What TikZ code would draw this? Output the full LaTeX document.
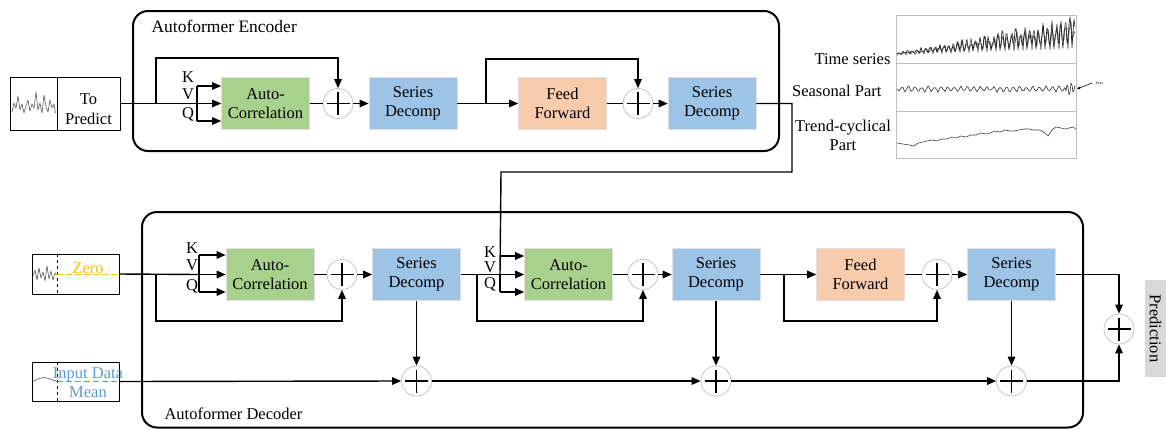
\documentclass[tikz,border=0pt]{standalone}
\usepackage{fontspec}
\setmainfont{Liberation Serif}
\usetikzlibrary{arrows.meta,positioning,calc}

\definecolor{acgreen}{HTML}{A9D18E}
\definecolor{sdblue}{HTML}{9DC3E6}
\definecolor{fforange}{HTML}{F8CBAD}
\definecolor{zeroyel}{HTML}{FFC000}
\definecolor{meanblue}{HTML}{5B9BD5}
\definecolor{predgray}{HTML}{D9D9D9}
\definecolor{framegray}{HTML}{BFBFBF}

\tikzset{
  txt/.style={font=\fontsize{16.5}{19.5}\selectfont},
  blk/.style={txt, minimum width=88pt, minimum height=52pt, inner sep=0pt,
              align=center, draw=black!12, line width=0.6pt},
  acblk/.style={blk, fill=acgreen},
  sdblk/.style={blk, fill=sdblue},
  ffblk/.style={blk, fill=fforange},
  plusnode/.style={circle, draw=framegray, line width=0.7pt, minimum size=30pt,
    inner sep=0pt,
    path picture={
      \draw[black, line width=1.5pt]
        ([xshift=-11.5pt]path picture bounding box.center) --
        ([xshift=11.5pt]path picture bounding box.center);
      \draw[black, line width=1.5pt]
        ([yshift=-11.5pt]path picture bounding box.center) --
        ([yshift=11.5pt]path picture bounding box.center);}},
  conn/.style={line width=1.4pt},
  arr/.style={conn, -{Triangle[length=9pt,width=7.5pt]}},
  container/.style={draw, line width=2pt, rounded corners=15pt},
  inbox/.style={draw, line width=1pt, inner sep=0pt},
  wave/.style={black!65, line width=0.6pt, line join=round},
}

\begin{document}
\begin{tikzpicture}[x=1pt, y=-1pt]
\useasboundingbox (0,0) rectangle (1166,429);

% ---------------- containers ----------------
\draw[container] (133,11) rectangle (779,151);
\draw[container] (142,212) rectangle (1083,427.5);
\node[font=\fontsize{17.5}{20}\selectfont, anchor=west] (enclab) at (148,26) {Autoformer Encoder};
\node[txt, anchor=west] (declab) at (161,414) {Autoformer Decoder};

% ---------------- encoder input ----------------
\node[inbox, minimum width=110pt, minimum height=53pt] (tp) at (65,103.5) {};
\draw[line width=1pt] (57,77) -- (57,130);
\node[txt, align=center] (tptext) at (88.5,109) {To\\Predict};
\draw[wave] plot coordinates {(12,112) (14,103) (16,108) (18,96) (20,110) (22,104)
  (24,113) (26,106) (28,100) (30,111) (32,104) (34,108) (36,92) (38,110) (40,103)
  (42,113) (44,95) (46,107) (48,112) (50,100) (52,108) (54,104) (55.5,113)};

% ---------------- encoder blocks ----------------
\node[acblk] (eAC)  at (265.5,103.5) {Auto-\\Correlation};
\node[plusnode] (eP1) at (338,103.5) {};
\node[sdblk] (eSD1) at (413,103.5) {Series\\Decomp};
\node[ffblk] (eFF)  at (562.5,103.5) {Feed\\Forward};
\node[plusnode] (eP2) at (638,103.5) {};
\node[sdblk] (eSD2) at (712,103.5) {Series\\Decomp};

\node[txt] (eKl) at (188,77) {K};
\node[txt] (eVl) at (188,94) {V};
\node[txt] (eQl) at (188,114) {Q};

\coordinate (eK) at (197,86);
\coordinate (eV) at (197,103.5);
\coordinate (eQ) at (197,121);
\coordinate (eRes1) at (156,103.5);
\coordinate (eTop1) at (338,58);
\coordinate (eRes2) at (486,103.5);
\coordinate (eTop2) at (638,59);

\draw[conn] (tp.east) -- (eV);
\draw[conn] (eK) -- (eQ);
\draw[arr] (eK) -- (eK -| eAC.west);
\draw[arr] (eV) -- (eAC.west);
\draw[arr] (eQ) -- (eQ -| eAC.west);
\draw[arr] (eRes1) |- (eTop1) -- (eP1.north);
\draw[conn] (eAC.east) -- (eP1.west);
\draw[arr] (eP1.east) -- (eSD1.west);
\draw[arr] (eSD1.east) -- (eFF.west);
\draw[arr] (eRes2) |- (eTop2) -- (eP2.north);
\draw[conn] (eFF.east) -- (eP2.west);
\draw[arr] (eP2.east) -- (eSD2.west);

% ---------------- decoder inputs ----------------
\node[inbox, minimum width=87pt, minimum height=40pt] (zero) at (75.5,274) {};
\draw[line width=1pt, dashed] (57,254) -- (57,294);
\draw[zeroyel, line width=1pt, dash pattern=on 6pt off 3pt] (57,274) -- (119,274);
\node[txt, text=zeroyel] (zerot) at (88,268) {Zero};
\draw[wave] plot coordinates {(33,276) (35,270) (37,280) (39,268) (41,278) (43,272)
  (45,281) (47,266) (49,279) (51,271) (53,280) (55,273) (57,275)};

\node[inbox, minimum width=87pt, minimum height=39pt] (mean) at (75.5,381.5) {};
\draw[line width=1pt, dashed] (57,362) -- (57,401);
\draw[meanblue, line width=1pt, dash pattern=on 6pt off 3pt] (57,381) -- (119,381);
\node[txt, text=meanblue, align=center] (meant) at (88,382.5) {Input Data\\Mean};
\draw[wave] plot[smooth] coordinates {(33,381.5) (38,379) (44,377.5) (50,379) (57,381.5)};

% ---------------- decoder blocks ----------------
\node[acblk] (dAC1) at (270,274.5) {Auto-\\Correlation};
\node[plusnode] (dP1) at (342,274.5) {};
\node[sdblk] (dSD1) at (416.5,274.5) {Series\\Decomp};
\node[acblk] (dAC2) at (568.5,274.5) {Auto-\\Correlation};
\node[plusnode] (dP2) at (643,274.5) {};
\node[sdblk] (dSD2) at (716,274.5) {Series\\Decomp};
\node[ffblk] (dFF)  at (860.5,274.5) {Feed\\Forward};
\node[plusnode] (dP3) at (937,274.5) {};
\node[sdblk] (dSD3) at (1011.5,274.5) {Series\\Decomp};

\node[plusnode] (bP1) at (416.5,381) {};
\node[plusnode] (bP2) at (716,381) {};
\node[plusnode] (bP3) at (1011.5,381) {};
\node[plusnode] (fin) at (1119,329) {};

\node[txt] (d1Kl) at (192,248) {K};
\node[txt] (d1Vl) at (192,265) {V};
\node[txt] (d1Ql) at (192,286) {Q};
\node[txt] (d2Kl) at (490,252) {K};
\node[txt] (d2Vl) at (490,267) {V};
\node[txt] (d2Ql) at (490,284) {Q};

\coordinate (d1K) at (199,255);
\coordinate (d1V) at (199,274.5);
\coordinate (d1Q) at (199,292);
\coordinate (d1Res) at (156,274.5);
\coordinate (d1Bot) at (342,321);
\coordinate (d2K) at (500,256);
\coordinate (d2V) at (500,274.5);
\coordinate (d2Q) at (500,292);
\coordinate (d2Res) at (477,274.5);
\coordinate (d2Bot) at (643,321);
\coordinate (d3Res) at (784,274.5);
\coordinate (d3Bot) at (937,321);
\coordinate (encOut) at (792,103.5);
\coordinate (encDrop) at (501,172);
\coordinate (outTop) at (1119,274.5);
\coordinate (outBot) at (1119,381);

% first decoder layer
\draw[conn] (zero.east) -- (d1V);
\draw[conn] (d1K) -- (d1Q);
\draw[arr] (d1K) -- (d1K -| dAC1.west);
\draw[arr] (d1V) -- (dAC1.west);
\draw[arr] (d1Q) -- (d1Q -| dAC1.west);
\draw[arr] (d1Res) |- (d1Bot) -- (dP1.south);
\draw[conn] (dAC1.east) -- (dP1.west);
\draw[arr] (dP1.east) -- (dSD1.west);

% encoder output into the cross correlation
\draw[conn] (eSD2.east) -- (encOut) |- (encDrop) -- (d2V);
\draw[arr] (d2K) -- (d2K -| dAC2.west);
\draw[arr] (d2V) -- (dAC2.west);

% second decoder layer
\draw[conn] (dSD1.east) -- (d2V) -- (d2Q);
\draw[arr] (d2Q) -- (d2Q -| dAC2.west);
\draw[arr] (d2Res) |- (d2Bot) -- (dP2.south);
\draw[conn] (dAC2.east) -- (dP2.west);
\draw[arr] (dP2.east) -- (dSD2.west);

% feed forward
\draw[arr] (dSD2.east) -- (dFF.west);
\draw[arr] (d3Res) |- (d3Bot) -- (dP3.south);
\draw[conn] (dFF.east) -- (dP3.west);
\draw[arr] (dP3.east) -- (dSD3.west);

% trend path
\draw[arr] (dSD1.south) -- (bP1.north);
\draw[arr] (dSD2.south) -- (bP2.north);
\draw[arr] (dSD3.south) -- (bP3.north);
\draw[arr] (mean.east) -- (bP1.west);
\draw[arr] (bP1.east) -- (bP2.west);
\draw[arr] (bP2.east) -- (bP3.west);

% final sum
\draw[arr] (dSD3.east) -- (outTop) -- (fin.north);
\draw[arr] (bP3.east) -- (outBot) -- (fin.south);

\node[txt, fill=predgray, rotate=-90, minimum width=97pt, minimum height=21pt,
      inner sep=0pt] (pred) at (1155.5,328.5) {Prediction};

% ---------------- decomposition panel ----------------
\draw[framegray, line width=0.8pt] (896,15) rectangle (1076,158);
\draw[framegray, line width=0.8pt] (896,63) -- (1076,63);
\draw[framegray, line width=0.8pt] (896,111) -- (1076,111);
\node[txt, anchor=east] (tsl) at (894,59) {Time series};
\node[txt, anchor=east] (spl) at (885,91) {Seasonal Part};
\node[txt, align=center] (tcl) at (843,135.5) {Trend-cyclical\\Part};

\pgfmathsetseed{11}
\draw[wave, black!60, line width=0.8pt] plot[domain=0:178, samples=179]
  (897+\x, {55-0.035*\x-(1.5+0.19*\x)*(0.45+0.55*rnd)*abs(sin(\x*40))});
\draw[wave, black!90, line width=0.6pt] plot[domain=0:178, samples=179]
  (897+\x, {54-0.035*\x-(1.5+0.18*\x)*(0.4+0.6*rnd)*abs(sin(\x*40+20))});
\draw[wave, black!80] plot[domain=0:178, samples=179]
  (897+\x, {89+(1.0+2.4*rnd)*sin(\x*55)+(\x>168)*5*sin((\x-160)*95)});
\draw[wave, black!75] plot coordinates {(897,143) (903,144) (909,145) (914,146)
  (918,143) (923,142) (927,141) (932,140) (937,141) (942,139) (947,139) (952,137)
  (956,138) (961,136) (966,137) (971,135) (976,135) (981,133) (986,134) (990,133)
  (995,131) (1000,132) (1005,130) (1010,131) (1014,131) (1019,130) (1024,129)
  (1029,129) (1034,130) (1040,130) (1045,133) (1048,136) (1052,130) (1056,127)
  (1061,128) (1065,129) (1069,128) (1073,127) (1076,129)};
\node[font=\fontsize{4}{4}\selectfont, anchor=west] (zerolab) at (1092,83) {Zero};
\draw[line width=0.6pt, -{Triangle[length=3pt,width=2.5pt]}] (zerolab.west) -- (1077,89);

\end{tikzpicture}
\end{document}
